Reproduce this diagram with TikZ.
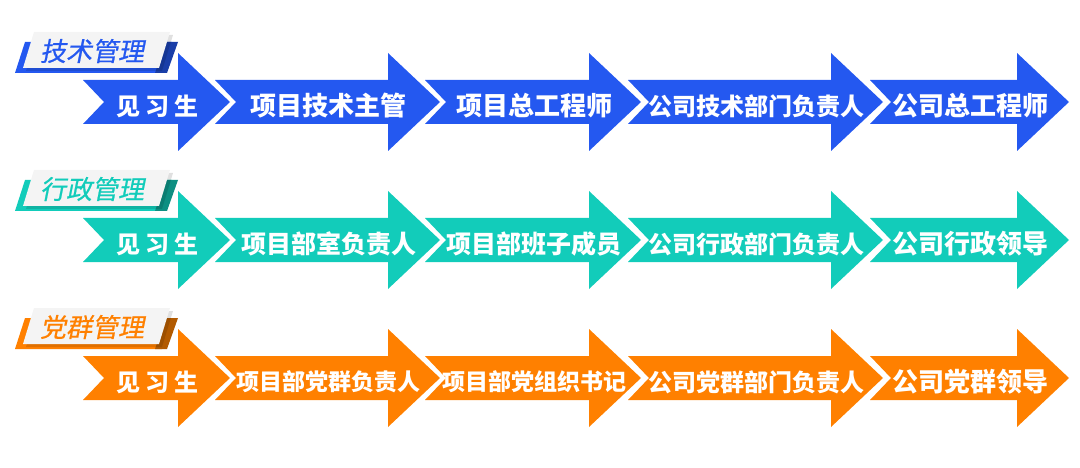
\documentclass[tikz,border=0pt]{standalone}
\usepackage{fontspec}
\newfontfamily\stepfont{Noto Sans CJK SC}
\newfontfamily\tabfont{Noto Sans CJK SC}[FakeSlant=0.2, FakeBold=0.6]
\usetikzlibrary{calc}
\definecolor{techblue}{RGB}{36,88,240}
\definecolor{admteal}{RGB}{18,204,186}
\definecolor{partyorange}{RGB}{255,128,0}

\begin{document}
\begin{tikzpicture}[
    x=1pt, y=-1pt,
    steparrow/.style={fill=#1},
    steplabel/.style={text=white, inner sep=0pt, font=\stepfont\bfseries\fontsize{#1}{#1}\selectfont},
    tabback/.style={fill=#1},
    tabbar/.style={fill=#1!70!black},
    tabshadow/.style={fill=black, opacity=0.12},
    tabpanel/.style={fill=gray!9},
    tablabel/.style={text=#1, inner sep=0pt, font=\tabfont\fontsize{26}{26}\selectfont}
]
\useasboundingbox (0,0) rectangle (1080,468);

% arrow geometry
\def\hs{22}   % half shaft
\def\hh{49}   % half head
\def\hl{52}   % head length
\def\nd{21}   % tail notch

% ---------- Tabs ----------
\foreach \c/\col/\tab/\r in {102/techblue/技术管理/T, 240/admteal/行政管理/A, 378/partyorange/党群管理/P} {
    \fill[tabback=\col] (25,\c-60) -- (172,\c-60) -- (162,\c-29) -- (15,\c-29) -- cycle;
    \fill[tabbar=\col] (166,\c-60) -- (178,\c-60) -- (167,\c-29) -- (155,\c-29) -- cycle;
    \fill[tabshadow] (37,\c-67) -- (173,\c-67) -- (162,\c-31) -- (26,\c-31) -- cycle;
    \fill[tabpanel] (34,\c-70) -- (170,\c-70) -- (159,\c-34) -- (23,\c-34) -- cycle;
    \node[tablabel=\col] (\r tab) at (92,\c-51) {\tab};
}

% ---------- Technical track ----------
\def\yc{102}
\foreach \i/\t/\h/\s/\lab in {1/83/178/24/{见\hspace{5pt}习\hspace{5pt}生},
                              2/215/388/26/项目技术主管,
                              3/425/589/26/项目总工程师,
                              4/628/831/24/公司技术部门负责人,
                              5/870/1017/26/公司总工程师} {
    \fill[steparrow=techblue] (\t,\yc-\hs) -- (\h,\yc-\hs) -- (\h,\yc-\hh) -- (\h+\hl,\yc)
        -- (\h,\yc+\hh) -- (\h,\yc+\hs) -- (\t,\yc+\hs) -- (\t+\nd,\yc) -- cycle;
    \node[steplabel=\s] (T\i) at ({(\t+\h+\hl)/2+1},\yc+4) {\lab};
}

% ---------- Administrative track ----------
\def\yc{240}
\foreach \i/\t/\h/\s/\lab in {1/83/178/24/{见\hspace{5pt}习\hspace{5pt}生},
                              2/215/388/25/项目部室负责人,
                              3/425/589/25/项目部班子成员,
                              4/628/831/24/公司行政部门负责人,
                              5/870/1017/26/公司行政领导} {
    \fill[steparrow=admteal] (\t,\yc-\hs) -- (\h,\yc-\hs) -- (\h,\yc-\hh) -- (\h+\hl,\yc)
        -- (\h,\yc+\hh) -- (\h,\yc+\hs) -- (\t,\yc+\hs) -- (\t+\nd,\yc) -- cycle;
    \node[steplabel=\s] (A\i) at ({(\t+\h+\hl)/2+1},\yc+4) {\lab};
}

% ---------- Party track ----------
\def\yc{378}
\foreach \i/\t/\h/\s/\lab in {1/83/178/24/{见\hspace{5pt}习\hspace{5pt}生},
                              2/215/388/23/项目部党群负责人,
                              3/425/589/23/项目部党组织书记,
                              4/628/831/24/公司党群部门负责人,
                              5/870/1017/26/公司党群领导} {
    \fill[steparrow=partyorange] (\t,\yc-\hs) -- (\h,\yc-\hs) -- (\h,\yc-\hh) -- (\h+\hl,\yc)
        -- (\h,\yc+\hh) -- (\h,\yc+\hs) -- (\t,\yc+\hs) -- (\t+\nd,\yc) -- cycle;
    \node[steplabel=\s] (P\i) at ({(\t+\h+\hl)/2+1},\yc+4) {\lab};
}

\end{tikzpicture}
\end{document}
